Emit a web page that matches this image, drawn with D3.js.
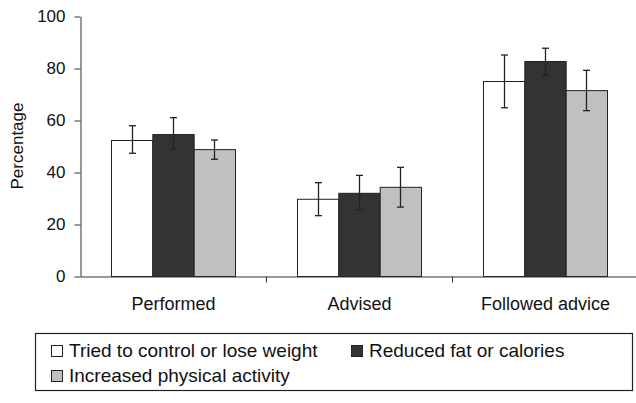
<!DOCTYPE html>
<html>
<head>
<meta charset="utf-8">
<script src="https://cdn.jsdelivr.net/npm/d3@7"></script>
<style>
  body { margin: 0; background: #fff; }
  text { font-family: Arial, "Liberation Sans", sans-serif; fill: #111; }
</style>
</head>
<body>
<div id="chart-area"></div>
<script>
const categories = ["Performed", "Advised", "Followed advice"]
const seriesNames = ["Tried to control or lose weight", "Reduced fat or calories", "Increased physical activity"]
const yTicks = [0, 20, 40, 60, 80, 100]

// mean, lower and upper error bar per category
const triedMean = [52.3, 29.7, 75.0]
const triedLow = [47.2, 23.2, 64.7]
const triedHigh = [57.8, 35.9, 85.0]

const reducedMean = [54.6, 32.0, 82.7]
const reducedLow = [48.7, 25.4, 77.2]
const reducedHigh = [60.9, 38.7, 87.6]

const increasedMean = [48.8, 34.3, 71.5]
const increasedLow = [44.9, 26.5, 63.6]
const increasedHigh = [52.3, 41.8, 79.1]

const colors = ["#ffffff", "#333333", "#c0c0c0"]

const W = 636, H = 403
const MARGIN = { LEFT: 80, TOP: 16, BOTTOM: 276 }

const svg = d3.select("#chart-area").append("svg")
  .attr("width", W)
  .attr("height", H)

const means = [triedMean, reducedMean, increasedMean]
const lows = [triedLow, reducedLow, increasedLow]
const highs = [triedHigh, reducedHigh, increasedHigh]

const data = []
seriesNames.forEach((s, si) => {
  categories.forEach((c, ci) => {
    data.push({ series: s, si: si, cat: c, v: means[si][ci], lo: lows[si][ci], hi: highs[si][ci] })
  })
})

const x0 = d3.scaleBand()
  .domain(categories)
  .range([MARGIN.LEFT, MARGIN.LEFT + 3 * 186])
  .padding(0)

const x1 = d3.scaleBand()
  .domain(seriesNames)
  .range([0, x0.bandwidth()])
  .paddingInner(0)
  .paddingOuter(0.75)

const y = d3.scaleLinear()
  .domain([0, 100])
  .range([MARGIN.BOTTOM, MARGIN.TOP])

// bars
svg.append("g").selectAll("rect")
  .data(data)
  .enter().append("rect")
    .attr("x", d => x0(d.cat) + x1(d.series) + 0.5)
    .attr("y", d => y(d.v) + 0.5)
    .attr("width", x1.bandwidth())
    .attr("height", d => y(0) - y(d.v))
    .attr("fill", d => colors[d.si])
    .attr("stroke", "#222")
    .attr("stroke-width", 1)

// error bars
const eb = svg.append("g")
  .attr("stroke", "#222")
  .attr("stroke-width", 1.3)
const cap = 3.5
data.forEach(d => {
  const cx = Math.round(x0(d.cat) + x1(d.series) + x1.bandwidth() / 2) + 0.5
  eb.append("line").attr("x1", cx).attr("x2", cx).attr("y1", y(d.hi)).attr("y2", y(d.lo))
  eb.append("line").attr("x1", cx - cap).attr("x2", cx + cap).attr("y1", y(d.hi)).attr("y2", y(d.hi))
  eb.append("line").attr("x1", cx - cap).attr("x2", cx + cap).attr("y1", y(d.lo)).attr("y2", y(d.lo))
})

// y axis
const yAxis = svg.append("g")
  .attr("transform", `translate(${MARGIN.LEFT + 0.5}, 0.5)`)
  .call(d3.axisLeft(y).tickValues(yTicks).tickSize(6).tickSizeOuter(0).tickPadding(9))
yAxis.selectAll("text").attr("font-size", "17px").attr("font-family", "Arial, 'Liberation Sans', sans-serif").attr("fill", "#111")
yAxis.selectAll("line, path").attr("stroke", "#333")

// x axis
const xAxis = svg.append("g")
  .attr("transform", `translate(0.5, ${MARGIN.BOTTOM + 0.5})`)
  .call(d3.axisBottom(x0).tickSize(0).tickSizeOuter(0).tickPadding(21))
xAxis.select("path").attr("stroke", "#333")
xAxis.selectAll("text").attr("font-size", "18px").attr("font-family", "Arial, 'Liberation Sans', sans-serif").attr("fill", "#111")

// category dividers
xAxis.selectAll(".divider")
  .data(categories.slice(1))
  .enter().append("line")
    .attr("x1", d => Math.round(x0(d)))
    .attr("x2", d => Math.round(x0(d)))
    .attr("y1", 0)
    .attr("y2", 6)
    .attr("stroke", "#333")

// y label
svg.append("text")
  .attr("transform", `translate(23, ${(MARGIN.TOP + MARGIN.BOTTOM) / 2}) rotate(-90)`)
  .attr("text-anchor", "middle")
  .attr("font-size", "17px")
  .text("Percentage")

// legend
const legend = svg.append("g")
legend.append("rect")
  .attr("x", 35.5).attr("y", 333.5)
  .attr("width", 597).attr("height", 57)
  .attr("fill", "none").attr("stroke", "#222").attr("stroke-width", 1.2)

const legendPos = [[51, 357], [351, 357], [51, 382]]
seriesNames.forEach((s, i) => {
  const [lx, ly] = legendPos[i]
  legend.append("rect")
    .attr("x", lx + 0.5).attr("y", ly - 11.5)
    .attr("width", 11).attr("height", 11)
    .attr("fill", colors[i]).attr("stroke", "#222")
  legend.append("text")
    .attr("x", lx + 18).attr("y", ly)
    .attr("font-size", "19px")
    .text(s)
})
</script>
</body>
</html>
